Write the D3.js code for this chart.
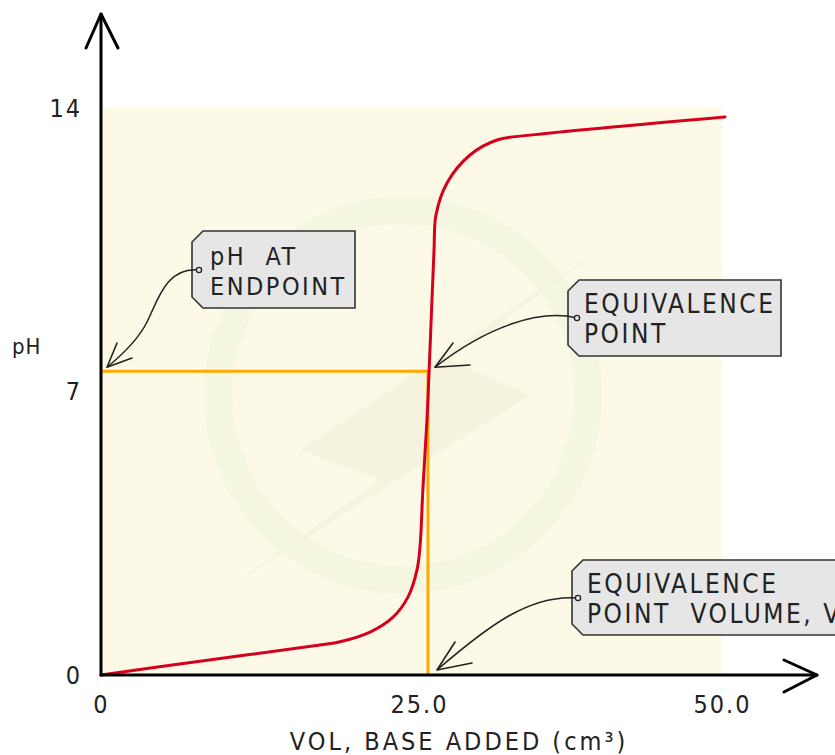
<!DOCTYPE html>
<html><head><meta charset="utf-8">
<script src="https://cdn.jsdelivr.net/npm/d3@7"></script>
<style>
html,body{margin:0;padding:0;background:#fff;}
text{font-family:"DejaVu Sans Condensed","DejaVu Sans",sans-serif;fill:#222;}
</style></head>
<body>
<svg id="c" width="835" height="755"></svg>
<script>
// ---- data ----
const volume = [0, 7.78, 17.22, 18.79, 21.15, 22.96, 24.14, 24.84, 25.08, 25.33, 25.66, 25.83, 26.07, 26.24, 26.40, 27.31, 29.21, 31.44, 34.16, 50.25];
const pH     = [0, 0.34, 0.74, 0.82, 1.06, 1.43, 1.93, 2.59, 3.16, 4.64, 6.30, 7.48, 9.26, 10.49, 11.36, 12.15, 12.84, 13.21, 13.33, 13.78];
const xTicks = [0, 25, 50];
const xTickLabels = ["0", "25.0", "50.0"];
const yTicks = [0, 7, 14];
const yTickLabels = ["0", "7", "14"];
const endpointPH = 7.5;
const equivVolume = 25.74;
const xTitle = "VOL, BASE ADDED (cm³)";
const yTitle = "pH";
const tagTexts = [["pH  AT", "ENDPOINT"], ["EQUIVALENCE", "POINT"], ["EQUIVALENCE", "POINT  VOLUME, V"]];

// ---- scales ----
const svg = d3.select("#c");
const x = d3.scaleLinear().domain([0, 25, 50]).range([101, 419, 722]);
const y = d3.scaleLinear().domain([0, 14]).range([675, 108]);

// background
svg.append("rect").attr("x", x(0)).attr("y", y(14)).attr("width", x(50) - x(0)).attr("height", y(0) - y(14)).attr("fill", "#fcfae6");

// faint watermark
const wm = svg.append("g").attr("opacity", 0.3);
wm.append("circle").attr("cx", 403).attr("cy", 395).attr("r", 185).attr("fill", "none").attr("stroke", "#e6f0d0").attr("stroke-width", 28);
wm.append("path").attr("d", "M225,590 L530,395 L450,360 L600,250 L300,450 L380,480 Z").attr("fill", "#e8e6cc");

// tick labels via d3.axis
const fs = 25;
const gx = svg.append("g").attr("transform", `translate(0,${y(0)})`)
  .call(d3.axisBottom(x).tickValues(xTicks).tickSize(0).tickPadding(20).tickFormat((d, i) => xTickLabels[i]));
gx.select(".domain").remove();
const gy = svg.append("g").attr("transform", `translate(${x(0)},0)`)
  .call(d3.axisLeft(y).tickValues(yTicks).tickSize(0).tickPadding(19).tickFormat((d, i) => yTickLabels[i]));
gy.select(".domain").remove();
svg.selectAll(".tick text").attr("font-size", fs).attr("letter-spacing", 2).attr("fill", "#222").attr("font-family", null);

// orange guide lines
svg.append("line").attr("x1", x(0)).attr("x2", x(equivVolume)).attr("y1", y(endpointPH)).attr("y2", y(endpointPH))
  .attr("stroke", "#ffa800").attr("stroke-width", 3);
svg.append("line").attr("x1", x(equivVolume)).attr("x2", x(equivVolume)).attr("y1", y(endpointPH)).attr("y2", y(0))
  .attr("stroke", "#ffa800").attr("stroke-width", 3);

// curve
const pts = volume.map((v, i) => [v, pH[i]]);
svg.append("path").datum(pts)
  .attr("d", d3.line().x(d => x(d[0])).y(d => y(d[1])).curve(d3.curveCatmullRom.alpha(0.5)))
  .attr("fill", "none").attr("stroke", "#d6001c").attr("stroke-width", 3).attr("stroke-linecap", "round");

// axis lines with arrows
const ax = svg.append("g").attr("stroke", "#000").attr("stroke-width", 3).attr("fill", "none").attr("stroke-linecap", "round").attr("stroke-linejoin", "round");
ax.append("path").attr("d", `M${x(0)},${y(0)} V14`);
ax.append("path").attr("d", `M86,48 L${x(0)},14 L118,48`);
ax.append("path").attr("d", `M${x(0)},${y(0)} H817`);
ax.append("path").attr("d", `M784,660 L817,${y(0)} L784,692`);

// titles
svg.append("text").attr("x", 459).attr("y", 750).attr("text-anchor", "middle").attr("font-size", fs).attr("letter-spacing", 3).text(xTitle);
svg.append("text").attr("x", 12).attr("y", 354).attr("font-size", 22).attr("letter-spacing", 1).text(yTitle);

// tags with arrows
const e1 = [x(0) + 6, y(endpointPH) - 4];
const e2 = [x(equivVolume) + 7, y(endpointPH) - 4];
const e3 = [x(equivVolume) + 9, y(0) - 5];
const tags = [
  {x0: 192, y0: 231, x1: 355, y1: 308, hx: 199, hy: 270, tx: 210, b1: 265, b2: 295,
   arrow: `M199,270 C166,267 158,300 147,322 C138,340 122,355 ${e1[0]},${e1[1]}`, tip: e1, w: [[117,343],[132,358]]},
  {x0: 568, y0: 280, x1: 781, y1: 356, hx: 577, hy: 318, tx: 584, b1: 313, b2: 343,
   arrow: `M577,318 C540,309 488,326 ${e2[0]},${e2[1]}`, tip: e2, w: [[453,343],[470,365]]},
  {x0: 572, y0: 560, x1: 850, y1: 635, hx: 578, hy: 598, tx: 587, b1: 593, b2: 623,
   arrow: `M578,598 C530,594 488,626 ${e3[0]},${e3[1]}`, tip: e3, w: [[455,642],[472,663]]}
];
tags.forEach((t, i) => {
  const c = 11;
  svg.append("path").attr("d", `M${t.x0+c},${t.y0} H${t.x1} V${t.y1} H${t.x0+c} L${t.x0},${t.y1-c} V${t.y0+c} Z`)
    .attr("fill", "#e6e6e6").attr("stroke", "#333").attr("stroke-width", 1.6);
  svg.append("path").attr("d", t.arrow).attr("fill", "none").attr("stroke", "#222").attr("stroke-width", 1.5);
  svg.append("path").attr("d", `M${t.w[0][0]},${t.w[0][1]} L${t.tip[0]},${t.tip[1]} L${t.w[1][0]},${t.w[1][1]}`)
    .attr("fill", "none").attr("stroke", "#222").attr("stroke-width", 1.6).attr("stroke-linecap", "round").attr("stroke-linejoin", "round");
  svg.append("circle").attr("cx", t.hx).attr("cy", t.hy).attr("r", 2.6).attr("fill", "#e6e6e6").attr("stroke", "#222").attr("stroke-width", 1.3);
  svg.append("text").attr("x", t.tx).attr("y", t.b1).attr("font-size", i === 0 ? 25 : 26).attr("letter-spacing", 2.5).style("white-space", "pre").text(tagTexts[i][0]);
  svg.append("text").attr("x", t.tx).attr("y", t.b2).attr("font-size", i === 0 ? 25 : 26).attr("letter-spacing", 2.5).style("white-space", "pre").text(tagTexts[i][1]);
});
</script>
</body></html>
